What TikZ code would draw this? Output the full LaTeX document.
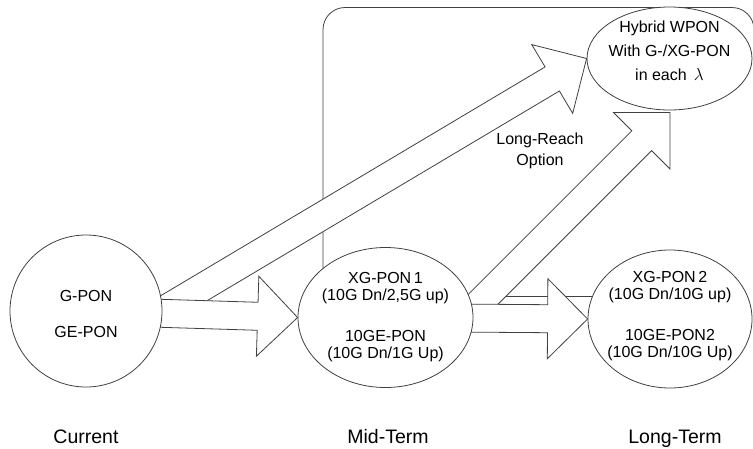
\documentclass[tikz,border=0pt]{standalone}
\usepackage{fontspec}
\setmainfont{Liberation Sans}
\usetikzlibrary{shapes.geometric,calc}
\pgfdeclarelayer{frame}
\pgfdeclarelayer{arrows}
\pgfsetlayers{frame,arrows,main}

% block-arrow dimensions
\newcommand\arrshaft{14pt}
\newcommand\arrhead{40pt}
\newcommand\arrlen{40pt}
% \fatarrow{name}{from}{tip}: white block arrow ending at the tip
\newcommand\fatarrow[3]{%
  \coordinate (#1-h) at ($(#3)!\arrlen!(#2)$);
  \path[blockarrow]
    ($(#2)!\arrshaft!90:(#3)$) --
    ($(#1-h)!\arrshaft!90:(#3)$) --
    ($(#1-h)!\arrhead!90:(#3)$) --
    (#3) --
    ($(#1-h)!\arrhead!-90:(#3)$) --
    ($(#1-h)!\arrshaft!-90:(#3)$) --
    ($(#2)!\arrshaft!-90:(#3)$) -- cycle;
}

\begin{document}
\begin{tikzpicture}[x=1pt,y=-1pt,
  outline/.style={draw=black!75,line width=0.8pt},
  stage/.style={outline,fill=white,inner sep=0pt},
  blockarrow/.style={outline,fill=white,line join=miter},
  txt/.style={align=center,inner sep=0pt,font=\fontsize{16}{17}\selectfont},
  era/.style={anchor=base,inner sep=0pt,font=\fontsize{19.5}{22}\selectfont}]

\useasboundingbox (0,0) rectangle (753,448);

% technology stages
\node[stage,circle,minimum size=152pt] (cur) at (86,311) {};
\node[stage,ellipse,minimum width=175pt,minimum height=140pt] (mid) at (385.5,317.5) {};
\node[stage,ellipse,minimum width=164pt,minimum height=138pt] (lng) at (670,319) {};
\node[stage,ellipse,minimum width=165pt,minimum height=103pt] (hyb) at (669.5,58.5) {};

% long-reach frame (rounded top corners; its lower edge runs behind the stages)
\begin{pgfonlayer}{frame}
  \draw[outline,rounded corners=22pt] (323,296) -- (323,7.5) -- (754,7.5) -- (754,296);
  \draw[outline] (323,296) -- (lng.center |- 0,296);
\end{pgfonlayer}

% migration arrows
\begin{pgfonlayer}{arrows}
  \fatarrow{up1}{cur.east}{hyb.west}
  \coordinate (t2) at ($(hyb.south)+(0.5,2)$);
  \coordinate (s2) at ($(t2)+(-210,210)$);
  \fatarrow{up2}{s2}{t2}
  \fatarrow{fw1}{cur.center}{mid.west}
  \fatarrow{fw2}{mid.center}{lng.west}
\end{pgfonlayer}

% stage contents
\node[txt] at ($(cur)+(0,3)$) {G-PON\\[19pt]GE-PON};
\node[txt] at (mid) {XG-PON\,1\\(10G Dn/2,5G up)\\[24pt]10GE-PON\\(10G Dn/1G Up)};
\node[txt] at ($(lng)+(0,-2.5)$) {XG-PON\,2\\(10G Dn/10G up)\\[24pt]10GE-PON2\\(10G Dn/10G Up)};
\node[txt,font=\fontsize{16}{24}\selectfont] at ($(hyb)+(0,-8)$) {Hybrid WPON\\With G-/XG-PON\\in each \,$\lambda$};
\node[txt,font=\fontsize{16}{21}\selectfont] at (540,151) {Long-Reach\\Option};

% time line labels
\node[era] at (86,443) {Current};
\node[era] at (388,443) {Mid-Term};
\node[era] at (675,443) {Long-Term};
\end{tikzpicture}
\end{document}
